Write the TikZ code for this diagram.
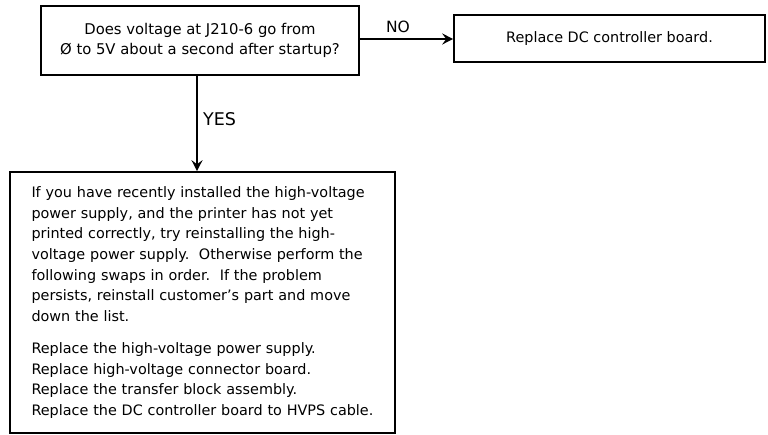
\documentclass[tikz,border=0pt]{standalone}
\usepackage{fontspec}
\setmainfont{DejaVu Sans}
\usetikzlibrary{arrows.meta}
\begin{document}
\begin{tikzpicture}[x=1pt,y=-1pt,
  box/.style={draw, line width=1.6pt, rectangle, inner sep=0pt, align=center,
    font=\fontsize{14.4}{20}\selectfont},
  arr/.style={line width=1.6pt, -{Stealth[length=11pt,width=11pt,inset=4pt]}},
  lbl/.style={font=\fontsize{15.5}{16}\selectfont, inner sep=0pt}]
\useasboundingbox (0,0) rectangle (768,435);
\node[box, minimum width=318pt, minimum height=69pt, font=\fontsize{14.8}{20}\selectfont] (q) at (200,40.5)
  {Does voltage at J210-6 go from\\Ø to 5V about a second after startup?};
\node[box, minimum width=311pt, minimum height=47pt] (r) at (609.5,38.5)
  {Replace DC controller board.};
\node[box, minimum width=385pt, minimum height=261pt, align=left, text width=342pt,
  font=\fontsize{14.4}{20.7}\selectfont] (act) at (202.5,302.5)
  {If you have recently installed the high-voltage\\
   power supply, and the printer has not yet\\
   printed correctly, try reinstalling the high-\\
   voltage power supply.\ \ Otherwise perform the\\
   following swaps in order.\ \ If the problem\\
   persists, reinstall customer's part and move\\
   down the list.\\[11pt]
   Replace the high-voltage power supply.\\
   Replace high-voltage connector board.\\
   Replace the transfer block assembly.\\
   Replace the DC controller board to HVPS cable.};
\draw[arr] ([yshift=1.5pt]q.east) -- ([yshift=1.5pt]q.east -| r.west);
\node[lbl] (no) at (398,27) {NO};
\draw[arr] ([xshift=-3pt]q.south) -- ([xshift=-3pt]q.south |- act.north);
\node[lbl, anchor=west, font=\fontsize{17.5}{18}\selectfont] (yes) at (203,119) {YES};
\end{tikzpicture}
\end{document}
